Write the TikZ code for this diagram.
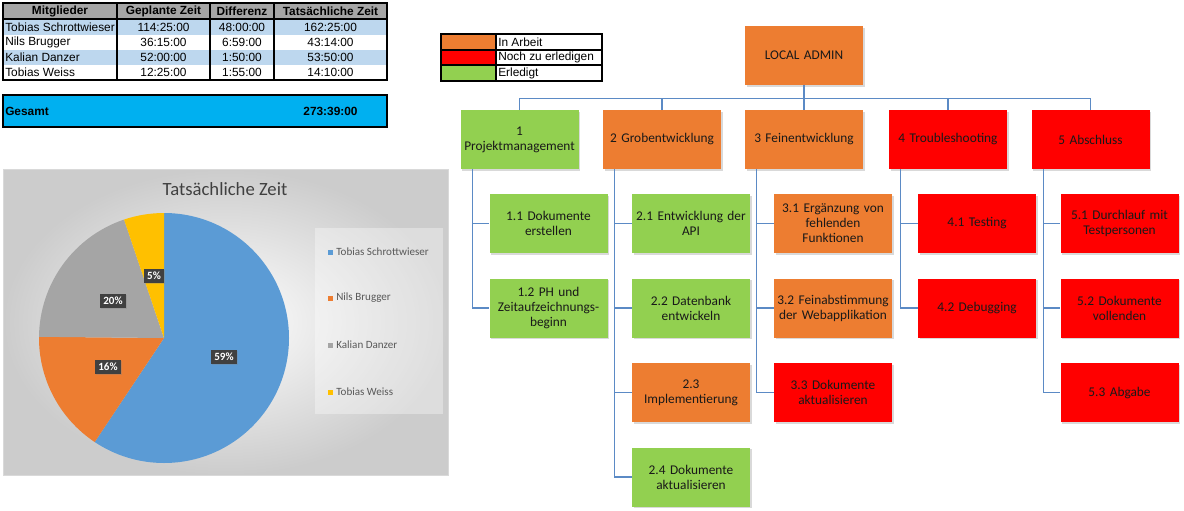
\documentclass[tikz,border=0pt]{standalone}
\usepackage{fontspec}
\setmainfont{Carlito}
\newfontfamily\tabfont{Liberation Sans}
\usetikzlibrary{positioning,shadows}
\definecolor{PlanOrange}{HTML}{ED7D31}
\definecolor{PlanRed}{HTML}{FF0000}
\definecolor{PlanGreen}{HTML}{92D050}
\definecolor{PlanLine}{HTML}{5B8AC5}
\definecolor{TabHead}{HTML}{A6A6A6}
\definecolor{TabBlue}{HTML}{BDD7EE}
\definecolor{TabCyan}{HTML}{00B0F0}
\definecolor{PieBlue}{HTML}{5B9BD5}
\definecolor{PieOrange}{HTML}{ED7D31}
\definecolor{PieGray}{HTML}{A5A5A5}
\definecolor{PieGold}{HTML}{FFC000}
\definecolor{PieText}{HTML}{595959}
\definecolor{PieTitle}{HTML}{404040}
\definecolor{PieLabel}{HTML}{404040}

\begin{document}
\begin{tikzpicture}[x=0.75pt,y=-0.75pt,node distance=18.75pt]
    \tikzset{wbsbox/.style={minimum width=88.5pt,minimum height=44.25pt,text width=86pt,align=center,
      inner xsep=1.25pt,inner ysep=1pt,font=\fontsize{10}{11.3}\selectfont,text=black!90,
      drop shadow={shadow xshift=1.2pt,shadow yshift=-1.2pt,opacity=0.3}},
      wbsline/.style={PlanLine,line width=1pt},
      tabcell/.style={font=\tabfont\fontsize{8.9}{10}\selectfont,inner sep=0pt},
      tabhead/.style={tabcell,font=\tabfont\bfseries\fontsize{8.9}{10}\selectfont},
      pielabel/.style={fill=PieLabel,text=white,font=\bfseries\fontsize{8.3}{9}\selectfont,inner sep=2.5pt,
      drop shadow={shadow xshift=0.8pt,shadow yshift=-0.8pt,opacity=0.3}},
      pieentry/.style={anchor=west,text=PieText,font=\fontsize{8.3}{9}\selectfont,inner sep=0pt}}
    \useasboundingbox (0,0) rectangle (1184,510);
    % time table
    \fill[TabHead] (3,3) rectangle (387,19);
    \fill[TabBlue] (3,19) rectangle (387,35);
    \fill[TabBlue] (3,50) rectangle (387,65);
    \draw[line width=1.5pt] (3,3) rectangle (387,80);
    \draw[line width=1.5pt] (3,19) -- (387,19);
    \draw[line width=1.5pt] (117,3) -- (117,80) (210,3) -- (210,80) (274,3) -- (274,80);
    \node[tabhead] (hname) at (60,11) {Mitglieder};
    \node[tabhead] (hplan) at (163.5,11) {Geplante Zeit};
    \node[tabhead] (hdiff) at (242,11) {Differenz};
    \node[tabhead] (hreal) at (330.5,11) {Tatsächliche Zeit};
    \node[tabcell,anchor=west] (name1) at (5,27) {Tobias Schrottwieser};
    \node[tabcell] (plan1) at (163.5,27) {114:25:00};
    \node[tabcell] (diff1) at (242,27) {48:00:00};
    \node[tabcell] (real1) at (330.5,27) {162:25:00};
    \node[tabcell,anchor=west] (name2) at (5,42.5) {Nils Brugger};
    \node[tabcell] (plan2) at (163.5,42.5) {36:15:00};
    \node[tabcell] (diff2) at (242,42.5) {6:59:00};
    \node[tabcell] (real2) at (330.5,42.5) {43:14:00};
    \node[tabcell,anchor=west] (name3) at (5,57.5) {Kalian Danzer};
    \node[tabcell] (plan3) at (163.5,57.5) {52:00:00};
    \node[tabcell] (diff3) at (242,57.5) {1:50:00};
    \node[tabcell] (real3) at (330.5,57.5) {53:50:00};
    \node[tabcell,anchor=west] (name4) at (5,72.5) {Tobias Weiss};
    \node[tabcell] (plan4) at (163.5,72.5) {12:25:00};
    \node[tabcell] (diff4) at (242,72.5) {1:55:00};
    \node[tabcell] (real4) at (330.5,72.5) {14:10:00};
    \draw[line width=1.5pt,fill=TabCyan] (3,95) rectangle (387,127);
    \node[tabhead,anchor=west] (sumlabel) at (5,111) {Gesamt};
    \node[tabhead] (sumtime) at (330.5,111) {273:39:00};
    % status key
    \fill[PlanOrange] (441,34) rectangle (496,50);
    \fill[PlanRed] (441,50) rectangle (496,65);
    \fill[PlanGreen] (441,65) rectangle (496,81);
    \draw[line width=1.2pt] (441,34) rectangle (602,81);
    \draw[line width=1.2pt] (496,34) -- (496,81) (441,50) -- (602,50) (441,65) -- (602,65);
    \node[tabcell,anchor=west] (keywork) at (498,42) {In Arbeit};
    \node[tabcell,anchor=west] (keytodo) at (498,57.5) {Noch zu erledigen};
    \node[tabcell,anchor=west] (keydone) at (498,73) {Erledigt};
    % pie chart
    \path[draw=black!15,inner color=white,outer color=black!20] (3,169) rectangle (448,475);
    \node[font=\fontsize{14}{16}\selectfont,text=PieTitle] (pietitle) at (225,189) {Tatsächliche Zeit};
    \fill[white,opacity=0.35] (315,228) rectangle (443,414);
    \fill[PieBlue] (164,338) -- ++(-90:125) arc[start angle=-90,end angle=123.67,radius=125] -- cycle;
    \fill[PieOrange] (164,338) -- ++(123.67:125) arc[start angle=123.67,end angle=180.55,radius=125] -- cycle;
    \fill[PieGray] (164,338) -- ++(180.55:125) arc[start angle=180.55,end angle=251.37,radius=125] -- cycle;
    \fill[PieGold] (164,338) -- ++(251.37:125) arc[start angle=251.37,end angle=270,radius=125] -- cycle;
    \node[pielabel] (pctts) at (224,357) {59\%};
    \node[pielabel] (pctnb) at (108,367) {16\%};
    \node[pielabel] (pctkd) at (113,301) {20\%};
    \node[pielabel] (pcttw) at (154,276) {5\%};
    \fill[PieBlue] (328,249.5) rectangle (333,254.5);
    \node[pieentry] (keyts) at (336,252) {Tobias Schrottwieser};
    \fill[PieOrange] (328,295.5) rectangle (333,300.5);
    \node[pieentry] (keynb) at (336,298) {Nils Brugger};
    \fill[PieGray] (328,342.5) rectangle (333,347.5);
    \node[pieentry] (keykd) at (336,345) {Kalian Danzer};
    \fill[PieGold] (328,389.5) rectangle (333,394.5);
    \node[pieentry] (keytw) at (336,392) {Tobias Weiss};
    % work breakdown
    \node[wbsbox,fill=PlanOrange] (admin) at (804,55.5) {LOCAL ADMIN};
    \node[wbsbox,fill=PlanGreen] (p1) at (519.5,139.5) {1\\Projektmanagement};
    \node[wbsbox,fill=PlanOrange] (p2) at (662,139.5) {2 Grobentwicklung};
    \node[wbsbox,fill=PlanOrange] (p3) at (804,139.5) {3 Feinentwicklung};
    \node[wbsbox,fill=PlanRed] (p4) at (948,139.5) {4 Troubleshooting};
    \node[wbsbox,fill=PlanRed] (p5) at (1090.5,139.5) {5 Abschluss};
    \node[wbsbox,fill=PlanGreen] (p11) at (548.5,223.5) {1.1 Dokumente\\erstellen};
    \node[wbsbox,fill=PlanGreen,below=of p11] (p12) {1.2 PH und\\Zeitaufzeichnungs-\\beginn};
    \node[wbsbox,fill=PlanGreen] (p21) at (691,223.5) {2.1 Entwicklung der\\API};
    \node[wbsbox,fill=PlanGreen,below=of p21] (p22) {2.2 Datenbank\\entwickeln};
    \node[wbsbox,fill=PlanOrange,below=of p22] (p23) {2.3\\Implementierung};
    \node[wbsbox,fill=PlanGreen,below=of p23] (p24) {2.4 Dokumente\\aktualisieren};
    \node[wbsbox,fill=PlanOrange] (p31) at (833,223.5) {3.1 Ergänzung von\\fehlenden\\Funktionen};
    \node[wbsbox,fill=PlanOrange,below=of p31] (p32) {3.2 Feinabstimmung\\der Webapplikation};
    \node[wbsbox,fill=PlanRed,below=of p32] (p33) {3.3 Dokumente\\aktualisieren};
    \node[wbsbox,fill=PlanRed] (p41) at (977,223.5) {4.1 Testing};
    \node[wbsbox,fill=PlanRed,below=of p41] (p42) {4.2 Debugging};
    \node[wbsbox,fill=PlanRed] (p51) at (1119.5,223.5) {5.1 Durchlauf mit\\Testpersonen};
    \node[wbsbox,fill=PlanRed,below=of p51] (p52) {5.2 Dokumente\\vollenden};
    \node[wbsbox,fill=PlanRed,below=of p52] (p53) {5.3 Abgabe};
    \draw[wbsline] (admin.south) -- ++(0,13) -| (p1.north);
    \draw[wbsline] (admin.south) -- ++(0,13) -| (p2.north);
    \draw[wbsline] (admin.south) -- ++(0,13) -| (p3.north);
    \draw[wbsline] (admin.south) -- ++(0,13) -| (p4.north);
    \draw[wbsline] (admin.south) -- ++(0,13) -| (p5.north);
    \draw[wbsline] ([xshift=9pt]p1.south west) |- (p11.west);
    \draw[wbsline] ([xshift=9pt]p1.south west) |- (p12.west);
    \draw[wbsline] ([xshift=9pt]p2.south west) |- (p21.west);
    \draw[wbsline] ([xshift=9pt]p2.south west) |- (p22.west);
    \draw[wbsline] ([xshift=9pt]p2.south west) |- (p23.west);
    \draw[wbsline] ([xshift=9pt]p2.south west) |- (p24.west);
    \draw[wbsline] ([xshift=9pt]p3.south west) |- (p31.west);
    \draw[wbsline] ([xshift=9pt]p3.south west) |- (p32.west);
    \draw[wbsline] ([xshift=9pt]p3.south west) |- (p33.west);
    \draw[wbsline] ([xshift=9pt]p4.south west) |- (p41.west);
    \draw[wbsline] ([xshift=9pt]p4.south west) |- (p42.west);
    \draw[wbsline] ([xshift=9pt]p5.south west) |- (p51.west);
    \draw[wbsline] ([xshift=9pt]p5.south west) |- (p52.west);
    \draw[wbsline] ([xshift=9pt]p5.south west) |- (p53.west);
  \end{tikzpicture}
\end{document}
